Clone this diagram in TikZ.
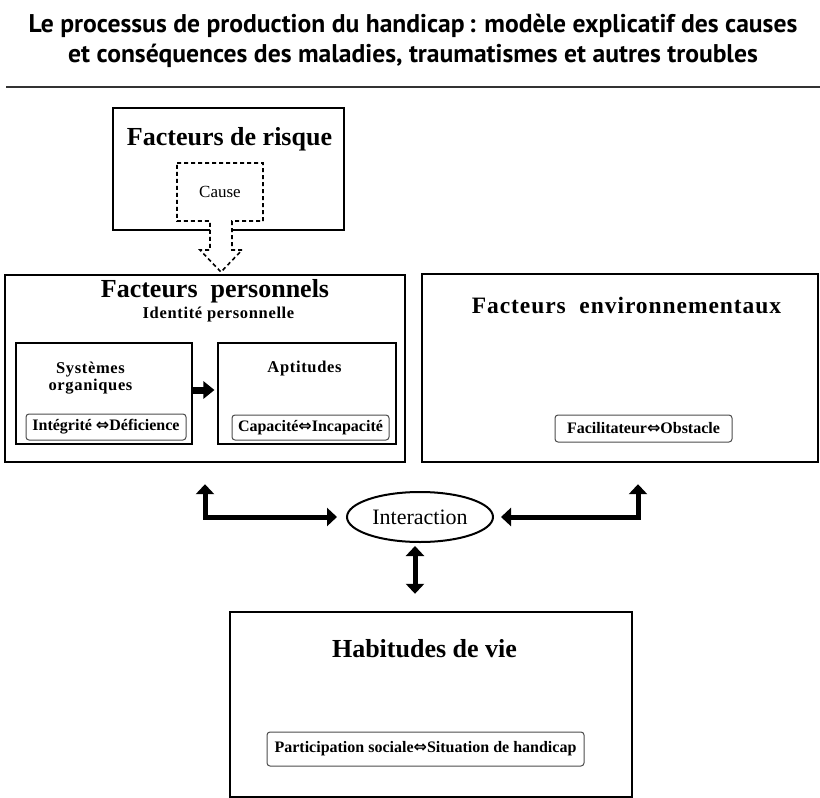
\documentclass[tikz,border=0pt]{standalone}
\usepackage{fontspec}
\usepackage{tikz}
\usetikzlibrary{arrows.meta,shapes.geometric}
\setmainfont{Liberation Serif}
\newfontfamily\titlefont{PT Sans}
\newfontfamily\arrowfont{DejaVu Sans}
\newfontfamily\spacedfont[LetterSpace=4]{Liberation Serif}
\newcommand{\eqarrow}{{\arrowfont ⇔}}

\tikzset{
  outerbox/.style={draw, line width=2.4pt, inner sep=0pt},
  innerbox/.style={draw, line width=1.1pt, inner sep=0pt},
  statebox/.style={draw=black!70, line width=1pt, rounded corners=3pt, inner sep=0pt,
    font=\bfseries\fontsize{16}{18}\selectfont},
  heading/.style={anchor=base, inner sep=0pt, font=\bfseries\fontsize{26}{30}\selectfont},
  subheading/.style={anchor=base, inner sep=0pt, font=\spacedfont\bfseries\fontsize{16.5}{18}\selectfont},
  titleline/.style={anchor=base, inner sep=0pt, font=\titlefont\bfseries\fontsize{25.6}{30}\selectfont},
  fatarrow/.style={line width=5pt, {Triangle[width=18pt,length=10pt]}-{Triangle[width=18pt,length=10pt]}},
}

\begin{document}
\begin{tikzpicture}[x=1pt, y=-1pt]
      \useasboundingbox (0,0) rectangle (820,798);
      \node[titleline] (title1) at (413,32)
        {Le processus de production du handicap\,: modèle explicatif des causes};
      \node[titleline] (title2) at (413,62)
        {et conséquences des maladies, traumatismes et autres troubles};
      \draw [line width=1.5pt, black!80] (6,87) -- (820,87);

      \node[outerbox, minimum width=231pt, minimum height=122pt] (risque) at (228.5,169) {};
      \node[heading] (risquetitle) at (229.5,145) {Facteurs de risque};
      \filldraw [fill=white, line width=1.6pt, dash pattern=on 4pt off 3pt]
        (177,163) -- (263,163) -- (263,221) -- (232,221) -- (232,250) -- (242,250)
        -- (221,272) -- (200,250) -- (210,250) -- (210,221) -- (177,221) -- cycle;
      \node[anchor=base, inner sep=0pt, font=\fontsize{17}{20}\selectfont] (cause) at (220,197) {Cause};

      \node[outerbox, minimum width=400pt, minimum height=187pt] (personnels) at (205,368.5) {};
      \node[heading] (personnelstitle) at (215,297) {Facteurs\ \ personnels};
      \node[subheading] (identite) at (218.5,318) {Identité personnelle};
      \begin{scope}
        \node[innerbox, minimum width=176pt, minimum height=101pt] (systemes) at (104,393.5) {};
        \node[subheading] (systemestitle) at (90.5,373) {Systèmes};
        \node[subheading] (organiques) at (90.5,390) {organiques};
        \node[statebox, minimum width=160pt, minimum height=26pt] (integrite) at (106,427) {Intégrité \eqarrow Déficience};
      \end{scope}
      \begin{scope}
        \node[innerbox, minimum width=178pt, minimum height=101pt] (aptitudes) at (307,393.5) {};
        \node[subheading] (aptitudestitle) at (304.5,372) {Aptitudes};
        \node[statebox, minimum width=157pt, minimum height=25pt] (capacite) at (310.5,427.5) {Capacité\eqarrow Incapacité};
      \end{scope}
      \draw [line width=7pt, -{Triangle[width=17pt,length=11pt]}, shorten >=3pt]
        ([yshift=3.5pt]systemes.east) -- ([yshift=3.5pt]aptitudes.west);

      \node[outerbox, minimum width=396pt, minimum height=188pt] (env) at (620,368) {};
      \node[heading, font=\spacedfont\bfseries\fontsize{23.5}{26}\selectfont] (envtitle) at (626.5,313) {Facteurs\ \ environnementaux};
      \node[statebox, minimum width=177pt, minimum height=27pt] (facilitateur) at (643.5,428.5) {Facilitateur\eqarrow Obstacle};

      \node[ellipse, draw, line width=2pt, minimum width=146pt, minimum height=50pt, inner sep=0pt,
        font=\fontsize{22}{26}\selectfont] (interaction) at (420,517) {Interaction};
      \coordinate (vtop) at ([xshift=-5pt]interaction.south);

      \node[outerbox, minimum width=402pt, minimum height=185pt] (habitudes) at (431,704.5) {};
      \node[heading] (habitudestitle) at (424.5,657) {Habitudes de vie};
      \node[statebox, minimum width=317pt, minimum height=34pt] (participation) at (425.5,749)
        {Participation sociale\eqarrow Situation de handicap};

      \draw [fatarrow, shorten >=9pt] ([yshift=-21pt]personnels.south) |- (interaction.west);
      \draw [fatarrow, shorten >=7pt] ([xshift=18pt,yshift=-21pt]env.south) |- (interaction.east);
      \draw [fatarrow, shorten <=3pt, shorten >=17pt] (vtop) -- (vtop |- habitudes.north);
    \end{tikzpicture}
\end{document}
